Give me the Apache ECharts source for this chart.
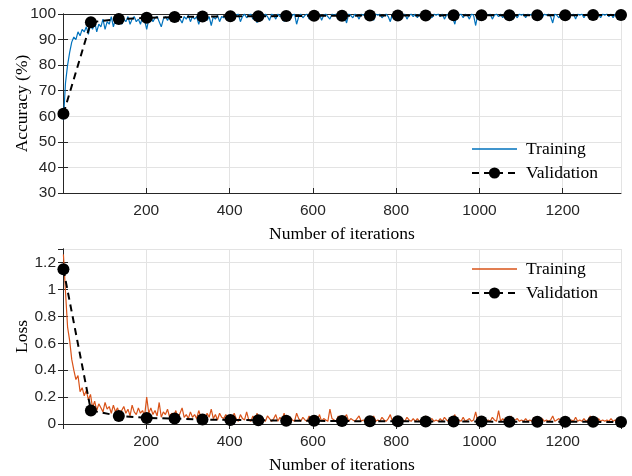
<!DOCTYPE html>
<html>
<head>
<meta charset="utf-8">
<script src="https://cdn.jsdelivr.net/npm/echarts@6/dist/echarts.min.js"></script>
<style>
html,body{margin:0;padding:0;background:#fff;}
#chart{width:632px;height:476px;}
</style>
</head>
<body>
<div id="chart"></div>
<script>
// ---- data ----
// training curves sampled every 5 iterations starting at iteration 1
var trainStep = 5;
var trainStart = 1;
var trainAccuracy = [
58.5,73,80,85,89,91,90,93,91.5,94,
93,95,92,96,94,97,93,96,95,98,
94,97,96,99,95,98,97,99,96,98,
97,99,96,98,99,97,98,96,99,97.5,
94,98,99,97,98.5,99,97,95,98,99,
97.5,99,98,99.5,97,99,98,96.5,99,98,
99.5,97,99,98,99,96,99,98.5,99.5,97.5,
99,95.5,99,98,99.5,97,99,98.5,99.5,97.5,
99,100,98,99.5,100,97,99,100,98.5,99.5,
100,98,99.5,96.5,100,99,98.5,100,99,97.5,
100,99.5,98,100,99,100,97,99.5,100,98.5,
99.5,100,96,99,100,98.5,99.5,100,98,99.5,
100,98.5,99.5,100,97.5,99.5,100,99,98,100,
99.5,100,98,99.5,100,99,96.5,100,99.5,98.5,
100,99.5,98,100,99.5,100,98.5,99.5,100,97.5,
100,99.5,100,98.5,99.5,100,99,97,100,99.5,
100,98.5,100,99.5,100,98,99.5,100,99,100,
98.5,100,99.5,100,97.5,100,99.5,98.5,100,99.5,
100,99,100,98,99.5,100,99.5,98.5,96,100,
99.5,100,98.5,100,99.5,98,100,99.5,95.5,100,
99.5,100,98.5,100,99.5,100,98,99.5,100,99,
100,98.5,100,99.5,100,97.5,100,99.5,98.5,100,
99.5,100,98.5,100,99.5,100,98,100,99.5,100,
98.5,100,99.5,100,99,96.5,100,99.5,98.5,100,
99.5,100,98.5,100,99.5,100,98,100,99.5,100,
98.5,100,99.5,100,98,100,99.5,100,98.5,100,
99.5,100,99,100,98.5,100,99.5,100
];
var trainLoss = [
1.26,0.98,0.72,0.62,0.48,0.40,0.33,0.36,0.24,0.27,
0.21,0.25,0.18,0.22,0.12,0.17,0.10,0.15,0.12,0.09,
0.16,0.11,0.13,0.08,0.14,0.09,0.12,0.07,0.10,0.13,
0.08,0.11,0.06,0.14,0.09,0.07,0.12,0.08,0.10,0.06,
0.20,0.08,0.12,0.07,0.10,0.06,0.16,0.05,0.09,0.07,
0.11,0.05,0.08,0.06,0.10,0.04,0.08,0.12,0.05,0.07,
0.04,0.09,0.05,0.07,0.04,0.10,0.05,0.06,0.03,0.08,
0.05,0.11,0.04,0.07,0.03,0.08,0.05,0.04,0.07,0.03,
0.06,0.03,0.08,0.04,0.02,0.07,0.04,0.03,0.09,0.03,
0.02,0.06,0.03,0.08,0.02,0.05,0.03,0.02,0.06,0.04,
0.02,0.04,0.07,0.02,0.05,0.03,0.08,0.02,0.03,0.05,
0.03,0.02,0.08,0.04,0.02,0.05,0.03,0.02,0.06,0.03,
0.02,0.05,0.03,0.07,0.02,0.04,0.03,0.02,0.11,0.04,
0.03,0.02,0.06,0.03,0.02,0.05,0.07,0.02,0.04,0.03,
0.02,0.04,0.06,0.02,0.03,0.02,0.05,0.03,0.02,0.06,
0.02,0.03,0.02,0.05,0.03,0.02,0.04,0.07,0.02,0.03,
0.02,0.04,0.02,0.03,0.02,0.05,0.03,0.02,0.04,0.02,
0.04,0.02,0.03,0.02,0.06,0.02,0.03,0.04,0.02,0.03,
0.02,0.04,0.02,0.05,0.03,0.02,0.03,0.04,0.07,0.02,
0.03,0.02,0.05,0.02,0.03,0.04,0.02,0.03,0.09,0.02,
0.03,0.02,0.04,0.02,0.03,0.02,0.05,0.03,0.02,0.10,
0.02,0.04,0.02,0.03,0.02,0.06,0.02,0.03,0.04,0.02,
0.03,0.02,0.04,0.02,0.03,0.02,0.05,0.02,0.03,0.02,
0.04,0.02,0.03,0.02,0.03,0.06,0.02,0.03,0.04,0.02,
0.03,0.02,0.04,0.02,0.03,0.02,0.05,0.02,0.03,0.02,
0.04,0.02,0.03,0.06,0.02,0.03,0.02,0.04,0.02,0.03,
0.02,0.03,0.02,0.04,0.02,0.03,0.02,0.03
];
var valIterations = [1,67,134,201,268,335,402,469,536,603,670,737,804,871,938,1005,1072,1139,1206,1273,1340];
var valAccuracy = [61,96.8,98,98.5,98.8,99,99.1,99.1,99.2,99.3,99.3,99.4,99.4,99.4,99.5,99.5,99.5,99.5,99.5,99.6,99.6];
var valLoss = [1.15,0.10,0.06,0.045,0.04,0.033,0.03,0.028,0.025,0.024,0.022,0.02,0.02,0.019,0.018,0.018,0.017,0.017,0.016,0.016,0.015];

// ---- build ----
function pairs(xs, ys){ return ys.map(function(v,i){ return [xs[i], v]; }); }
var trainIter = trainAccuracy.map(function(_,i){ return trainStart + i*trainStep; });

var axisCol = '#262626';
var tickFont = {fontFamily:'Liberation Sans', fontSize:15.5, color:axisCol};
var nameFont = {fontFamily:'Liberation Serif', fontSize:17.5, color:'#000'};
var grid0 = {left:63, top:14, width:558, height:179, containLabel:false, outerBoundsMode:'none'};
var grid1 = {left:63, top:249, width:558, height:175, containLabel:false, outerBoundsMode:'none'};
function fmt(v){ return String(Math.round(v*10)/10); }

function xAx(gi, pos, labels){
  return {
    type:'value', gridIndex:gi, position:pos, min:0, max:1340, interval:200,
    axisLine:{show:true, lineStyle:{color:axisCol, width:1}},
    axisTick:{show:true, inside:true, length:5, lineStyle:{color:axisCol}},
    axisLabel: labels ? Object.assign({show:true, margin:10, showMinLabel:false, showMaxLabel:false, formatter:fmt}, tickFont) : {show:false},
    splitLine:{show:labels, lineStyle:{color:'#e3e3e3', width:1}},
    name: labels ? 'Number of iterations' : '',
    nameLocation:'middle', nameGap:32, nameMoveOverlap:false, nameTextStyle:nameFont
  };
}
function yAx(gi, pos, labels, mn, mx, iv, nm){
  return {
    type:'value', gridIndex:gi, position:pos, min:mn, max:mx, interval:iv,
    axisLine:{show:true, lineStyle:{color:axisCol, width:1}},
    axisTick:{show:true, inside:true, length:5, lineStyle:{color:axisCol}},
    axisLabel: labels ? Object.assign({show:true, margin:7, showMaxLabel: mx===100, formatter:fmt}, tickFont) : {show:false},
    splitLine:{show:labels, lineStyle:{color:'#e3e3e3', width:1}},
    name: labels ? nm : '',
    nameLocation:'middle', nameGap:32, nameMoveOverlap:false, nameTextStyle:nameFont
  };
}
var legendText = {fontFamily:'Liberation Serif', fontSize:17.5, color:'#000', lineHeight:14, padding:[0,0,0,4]};
var flatLine = 'path://M0,0L60,0L60,2L0,2Z';

var option = {
  animation:false,
  backgroundColor:'#fff',
  grid:[grid0, grid1],
  xAxis:[xAx(0,'bottom',true), xAx(1,'bottom',true), xAx(0,'top',false), xAx(1,'top',false)],
  yAxis:[yAx(0,'left',true,30,100,10,'Accuracy (%)'), yAx(1,'left',true,0,1.3,0.2,'Loss'),
         yAx(0,'right',false,30,100,10,''), yAx(1,'right',false,0,1.3,0.2,'')],
  legend:[
    {orient:'vertical', left:466, top:135, itemWidth:45, itemHeight:14, itemGap:6, textStyle:legendText,
     data:[{name:'Training', icon:flatLine},'Validation']},
    {orient:'vertical', left:466, top:255, itemWidth:45, itemHeight:14, itemGap:6, textStyle:legendText,
     data:[{name:'Training ', icon:flatLine},'Validation ']}
  ],
  series:[
    {name:'Training', type:'line', xAxisIndex:0, yAxisIndex:0, symbol:'none',
     data:pairs(trainIter, trainAccuracy), lineStyle:{color:'#0072BD', width:1.2}, itemStyle:{color:'#0072BD'}},
    {name:'Validation', type:'line', xAxisIndex:0, yAxisIndex:0, symbol:'circle', symbolSize:12,
     data:pairs(valIterations, valAccuracy), lineStyle:{color:'#000', width:2, type:[7,5]}, itemStyle:{color:'#000'}},
    {name:'Training ', type:'line', xAxisIndex:1, yAxisIndex:1, symbol:'none',
     data:pairs(trainIter, trainLoss), lineStyle:{color:'#D95319', width:1.2}, itemStyle:{color:'#D95319'}},
    {name:'Validation ', type:'line', xAxisIndex:1, yAxisIndex:1, symbol:'circle', symbolSize:12,
     data:pairs(valIterations, valLoss), lineStyle:{color:'#000', width:2, type:[7,5]}, itemStyle:{color:'#000'}}
  ]
};
var chart = echarts.init(document.getElementById('chart'), null, {renderer:'canvas'});
chart.setOption(option);
</script>
</body>
</html>
